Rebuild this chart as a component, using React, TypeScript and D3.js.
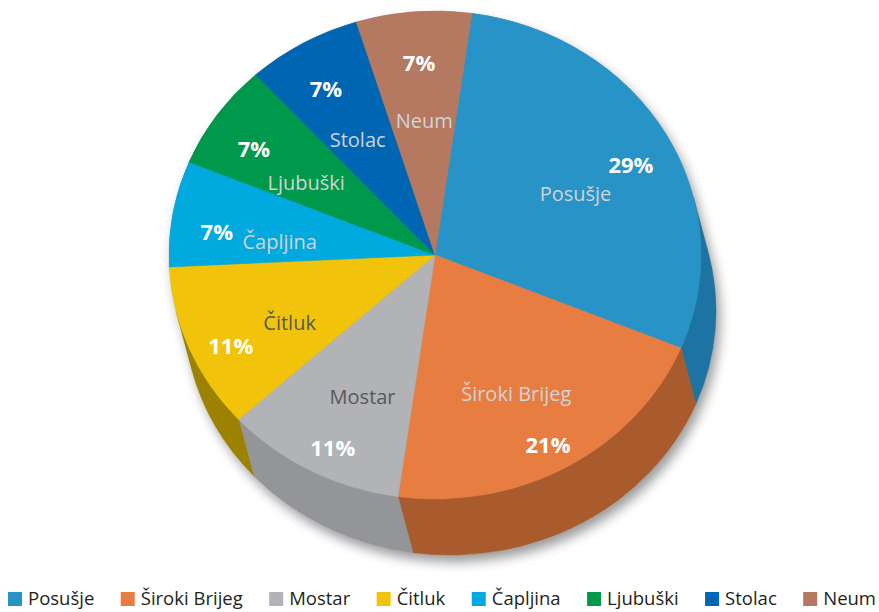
import React, { useMemo } from 'react';
import * as d3 from 'd3';

const categories = ['Posušje', 'Široki Brijeg', 'Mostar', 'Čitluk', 'Čapljina', 'Ljubuški', 'Stolac', 'Neum'];
const values = [29, 21, 11, 11, 7, 7, 7, 7];
const topColors = ['#2893c6', '#e87d42', '#b1b3b6', '#f1c30b', '#00a9de', '#00984a', '#0066b3', '#b57861'];
const sideColors = ['#1d74a2', '#a95b2d', '#939598', '#9c8200', '#0086b0', '#007538', '#004f8a', '#8d5c4a'];
const nameColors = ['#d1d3d4', '#d1d3d4', '#58595b', '#58595b', '#d1d3d4', '#d1d3d4', '#d1d3d4', '#d1d3d4'];

const W = 879;
const H = 612;
const FONT = "'Open Sans', 'Noto Sans', sans-serif";

export default function App() {
  const cx = 435, cy = 255, rx = 266, ry = 244, dx = 15, dy = 56;
  const lcx = 437, lcy = 267;
  const start = (8 * Math.PI) / 180;

  const arcs = useMemo(
    () => d3.pie<number>().sort(null).startAngle(start).endAngle(start + 2 * Math.PI)(values),
    []
  );

  const E = (t: number, ox = 0, oy = 0): [number, number] => [cx + rx * Math.sin(t) + ox, cy - ry * Math.cos(t) + oy];
  const f = (p: [number, number]) => `${p[0].toFixed(2)},${p[1].toFixed(2)}`;

  const topPath = (t0: number, t1: number) => {
    const large = t1 - t0 > Math.PI ? 1 : 0;
    return `M${cx},${cy}L${f(E(t0))}A${rx},${ry} 0 ${large} 1 ${f(E(t1))}Z`;
  };

  const phi = Math.atan2(dy / ry, dx / rx);
  const visA = phi, visB = phi + Math.PI;

  const sidePath = (t0: number, t1: number) => {
    const s = Math.max(t0, visA), e = Math.min(t1, visB);
    if (e <= s) return null;
    const large = e - s > Math.PI ? 1 : 0;
    return `M${f(E(s))}A${rx},${ry} 0 ${large} 1 ${f(E(e))}L${f(E(e, dx, dy))}A${rx},${ry} 0 ${large} 0 ${f(E(s, dx, dy))}Z`;
  };

  const hull = `M${f(E(visB))}A${rx},${ry} 0 1 1 ${f(E(visA))}L${f(E(visA, dx, dy))}A${rx},${ry} 0 0 1 ${f(E(visB, dx, dy))}Z`;

  const legend = useMemo(() => {
    const canvas = document.createElement('canvas');
    const ctx = canvas.getContext('2d')!;
    ctx.font = `18.5px ${FONT}`;
    const sq = 14, gapT = 6;
    const widths = categories.map((c) => ctx.measureText(c).width);
    const itemW = widths.map((w) => sq + gapT + w);
    const total = d3.sum(itemW);
    const gap = (868 - total) / (categories.length - 1);
    let x = 8;
    return categories.map((c, i) => {
      const item = { x, c, i };
      x += itemW[i] + gap;
      return item;
    });
  }, []);

  return (
    <svg width={W} height={H} style={{ position: 'absolute', left: 0, top: 0, background: '#fff' }}>
      <defs>
        <filter id="shadow" x="-20%" y="-20%" width="140%" height="140%">
          <feDropShadow dx="4" dy="7" stdDeviation="6" floodColor="#000" floodOpacity="0.4" />
        </filter>
      </defs>
      <path d={hull} fill="#999" filter="url(#shadow)" />
      {arcs.map((a, i) => {
        const d = sidePath(a.startAngle, a.endAngle);
        return d ? <path key={'s' + i} d={d} fill={sideColors[i]} stroke={sideColors[i]} strokeWidth={0.5} /> : null;
      })}
      {arcs.map((a, i) => (
        <path key={'t' + i} d={topPath(a.startAngle, a.endAngle)} fill={topColors[i]} stroke={topColors[i]} strokeWidth={0.5} />
      ))}
      {arcs.map((a, i) => {
        const mid = (a.startAngle + a.endAngle) / 2;
        const pp = [lcx + 0.84 * rx * Math.sin(mid), lcy - 0.84 * ry * Math.cos(mid)];
        const np = [lcx + 0.6 * rx * Math.sin(mid), lcy - 0.6 * ry * Math.cos(mid)];
        return (
          <g key={'l' + i} fontFamily={FONT} textAnchor="middle">
            <text x={pp[0]} y={pp[1]} dy="0.36em" fontSize={22} fontWeight={700} fill="#fff">
              {values[i]}%
            </text>
            <text x={np[0]} y={np[1]} dy="0.36em" fontSize={20} fill={nameColors[i]}>
              {categories[i]}
            </text>
          </g>
        );
      })}
      <g fontFamily={FONT} fontSize={18.5} fill="#231f20">
        {legend.map((it) => (
          <g key={it.c} transform={`translate(${it.x},0)`}>
            <rect x={0} y={592} width={14} height={14} fill={topColors[it.i]} />
            <text x={20} y={605}>{it.c}</text>
          </g>
        ))}
      </g>
    </svg>
  );
}
